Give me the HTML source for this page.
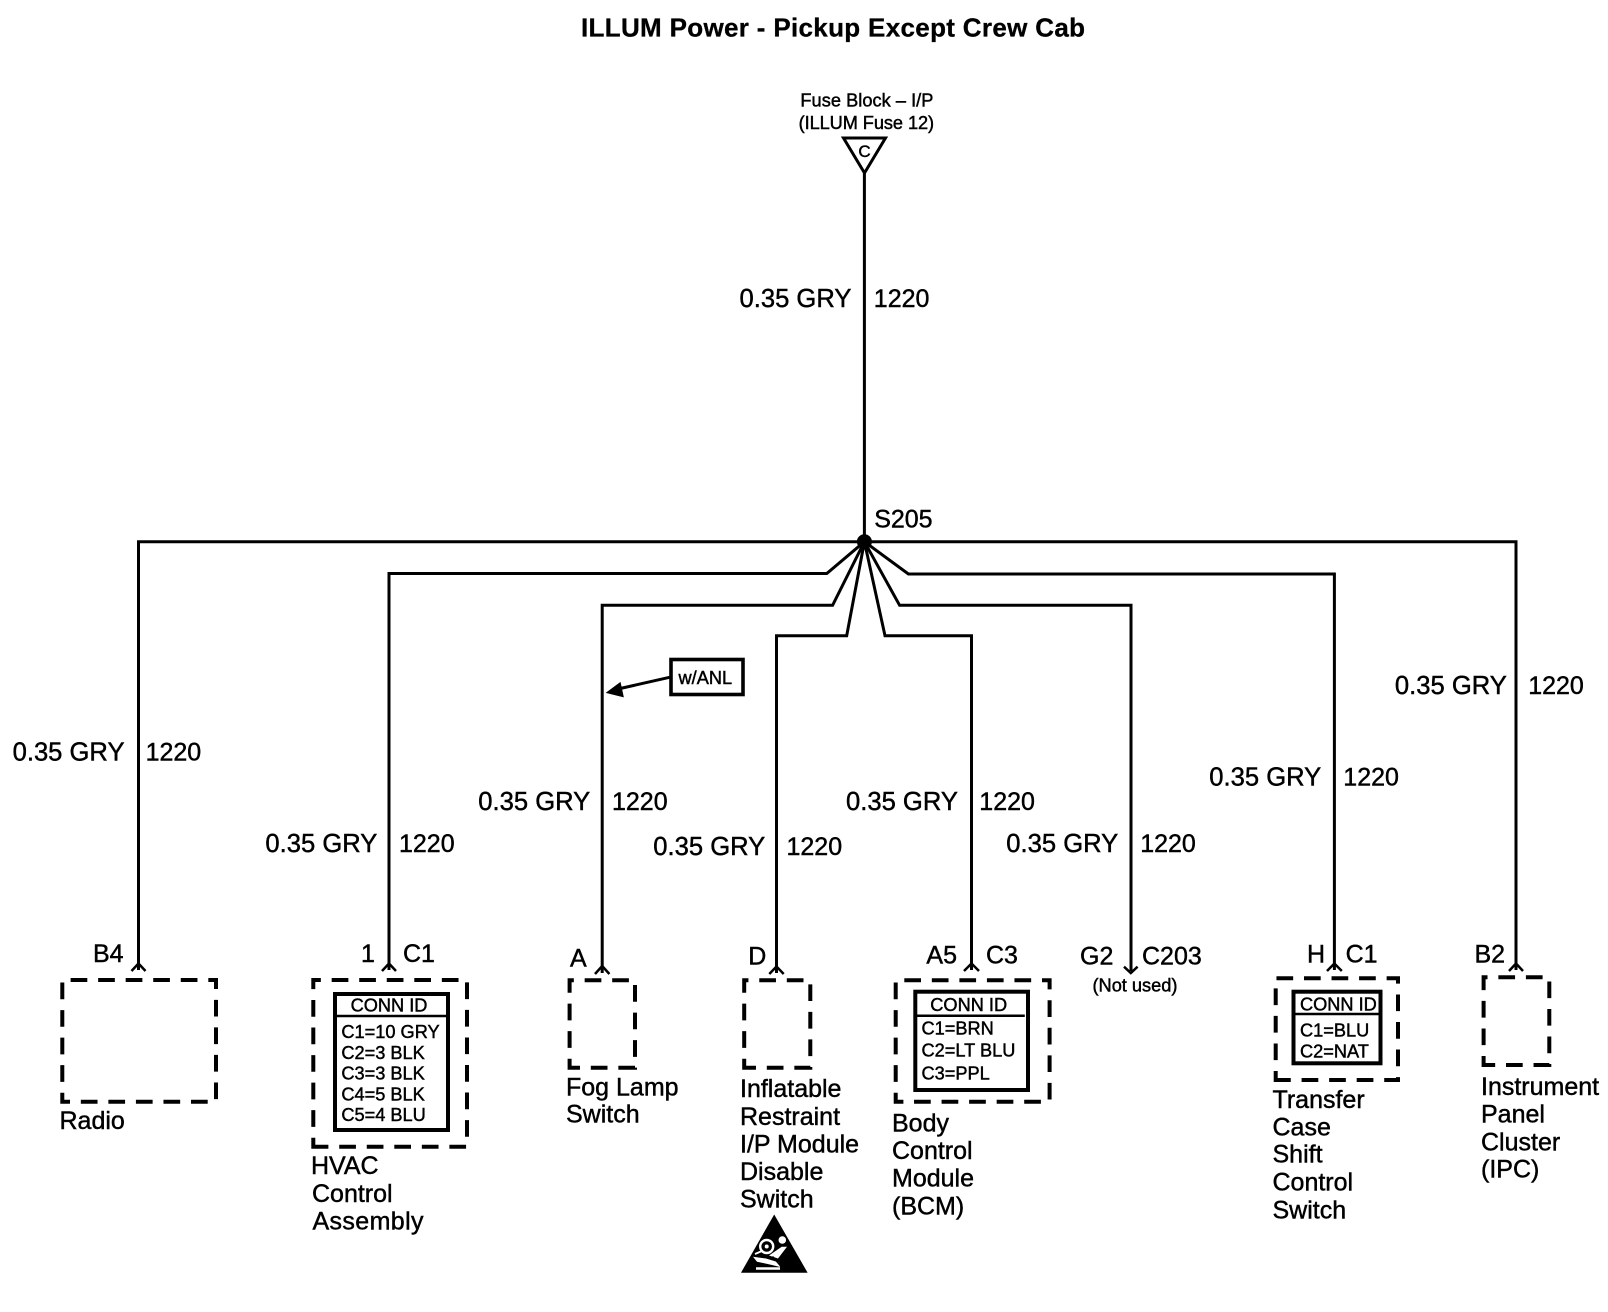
<!DOCTYPE html>
<html>
<head>
<meta charset="utf-8">
<style>
html,body{margin:0;padding:0;background:#fff;}
svg{display:block;}
text{font-family:"Liberation Sans",Arial,sans-serif;fill:#000;stroke:#000;stroke-width:.45;}
.w{font-size:25.6px;}
.l{font-size:25px;}
.s{font-size:18.2px;}
.t{font-size:26px;font-weight:bold;stroke-width:.3;}
.wire{fill:none;stroke:#000;stroke-width:3;}
.dash{fill:none;stroke:#000;stroke-width:4;stroke-dasharray:16.7 10.84;}
.box{fill:none;stroke:#000;stroke-width:4;}
.div{fill:none;stroke:#000;stroke-width:2.5;}
.chev{fill:none;stroke:#000;stroke-width:2.5;}
</style>
</head>
<body>
<svg width="1608" height="1312" viewBox="0 0 1608 1312" xmlns="http://www.w3.org/2000/svg">
<rect width="1608" height="1312" fill="#fff"/>

<text class="t" x="581" y="36.3" textLength="504" lengthAdjust="spacing">ILLUM Power - Pickup Except Crew Cab</text>

<text class="s" x="800.4" y="106.7" textLength="133">Fuse Block – I/P</text>
<text class="s" x="798.6" y="129" textLength="135.5">(ILLUM Fuse 12)</text>
<path d="M843.5 138H885.5L864.5 173Z" fill="none" stroke="#000" stroke-width="3"/>
<text x="864.5" y="157" text-anchor="middle" style="font-size:17px">C</text>

<!-- wires -->
<path class="wire" d="M864.4 173V541.7"/>
<path class="wire" d="M138.5 970V541.7H1516V970"/>
<path class="wire" d="M389 970V573.5H826.8L864.4 541.7L908.4 574H1334.4V970"/>
<path class="wire" d="M602.2 973V605.3H832.6L864.4 541.7L899.6 605.3H1131V971"/>
<path class="wire" d="M776.5 973V635.7H846.7L864.4 541.7L885 635.7H971.5V970"/>
<circle cx="864.4" cy="541.7" r="7.5" fill="#000"/>
<text class="l" x="874.2" y="527.7">S205</text>

<!-- w/ANL -->
<rect x="671" y="659.5" width="72" height="35" fill="#fff" stroke="#000" stroke-width="3.6"/>
<text class="s" x="678.5" y="684">w/ANL</text>
<path d="M669.6 677.3L618 689" fill="none" stroke="#000" stroke-width="3"/>
<path d="M606.8 692.7L620.2 682.7L623.2 696.7Z" fill="#000" stroke="#000" stroke-width="1"/>

<!-- wire labels -->
<text class="w" x="739.5" y="307.2">0.35 GRY</text><text class="l" x="873.8" y="307.2">1220</text>
<text class="w" x="12.6" y="760.6">0.35 GRY</text><text class="l" x="145.6" y="760.6">1220</text>
<text class="w" x="265.4" y="852">0.35 GRY</text><text class="l" x="399" y="852">1220</text>
<text class="w" x="478.3" y="810">0.35 GRY</text><text class="l" x="612" y="810">1220</text>
<text class="w" x="653.3" y="855">0.35 GRY</text><text class="l" x="786.5" y="855">1220</text>
<text class="w" x="846" y="810">0.35 GRY</text><text class="l" x="979.3" y="810">1220</text>
<text class="w" x="1006.3" y="852">0.35 GRY</text><text class="l" x="1140.2" y="852">1220</text>
<text class="w" x="1209.3" y="785.4">0.35 GRY</text><text class="l" x="1343.3" y="785.4">1220</text>
<text class="w" x="1394.9" y="694">0.35 GRY</text><text class="l" x="1528.2" y="694">1220</text>

<!-- connector chevrons -->
<polyline class="chev" points="131.5,971 138.5,963.5 145.5,971"/>
<polyline class="chev" points="382,971 389,963.5 396,971"/>
<polyline class="chev" points="595,974 602.2,966 609.4,974"/>
<polyline class="chev" points="769.3,974 776.5,966.5 783.7,974"/>
<polyline class="chev" points="964,971 971.5,963.5 979,971"/>
<polyline class="chev" points="1124,966.7 1130.8,973 1137.6,966.7"/>
<polyline class="chev" points="1327,971 1334.4,963.5 1341.8,971"/>
<polyline class="chev" points="1509,971 1516,963.5 1523,971"/>

<!-- connector labels -->
<text class="l" x="93" y="962">B4</text>
<text class="l" x="361" y="962">1</text><text class="l" x="403" y="962">C1</text>
<text class="l" x="570" y="966.7">A</text>
<text class="l" x="748.3" y="964.3">D</text>
<text class="l" x="926.4" y="963.3">A5</text><text class="l" x="986" y="963.3">C3</text>
<text class="l" x="1080" y="964.3">G2</text><text class="l" x="1142" y="964.3">C203</text>
<text class="s" x="1092.5" y="991.7">(Not used)</text>
<text class="l" x="1307" y="962.3">H</text><text class="l" x="1345.6" y="962.3">C1</text>
<text class="l" x="1474.5" y="962.3">B2</text>

<!-- dashed boxes -->
<path class="dash" d="M70 1101.7H62.3V980H216V1101.7Z"/>
<path class="dash" d="M321 1146.7H313.3V980H467V1146.7Z"/>
<path class="dash" d="M577.3 1067.7H569.6V980.3H635V1067.7Z"/>
<path class="dash" d="M751.9 1067.7H744.2V980.3H810.3V1067.7Z"/>
<path class="dash" d="M903.4 1101.7H895.7V980.3H1049.6V1101.7Z"/>
<path class="dash" d="M1283.4 1080H1275.7V978.3H1398V1080Z"/>
<path class="dash" d="M1491.3 1065H1483.6V977.3H1549.3V1065Z"/>

<!-- HVAC conn id -->
<rect class="box" x="335" y="994" width="113" height="136"/>
<path class="div" d="M335 1016H448"/>
<text class="s" x="389" y="1011.7" text-anchor="middle">CONN ID</text>
<text class="s" x="341.4" y="1038">C1=10 GRY</text>
<text class="s" x="341.4" y="1058.8">C2=3 BLK</text>
<text class="s" x="341.4" y="1079.6">C3=3 BLK</text>
<text class="s" x="341.4" y="1100.4">C4=5 BLK</text>
<text class="s" x="341.4" y="1121">C5=4 BLU</text>

<!-- BCM conn id -->
<rect class="box" x="915.3" y="991.7" width="112.7" height="98.3"/>
<path class="div" d="M915.3 1015.7H1024.8"/>
<text class="s" x="968.7" y="1011" text-anchor="middle">CONN ID</text>
<text class="s" x="921.5" y="1034.3">C1=BRN</text>
<text class="s" x="921.5" y="1056.7">C2=LT BLU</text>
<text class="s" x="921.5" y="1079.3">C3=PPL</text>

<!-- Transfer conn id -->
<rect class="box" x="1293.5" y="991.7" width="87" height="71.6"/>
<path class="div" d="M1293.5 1014H1380.5"/>
<text class="s" x="1300" y="1010.7">CONN ID</text>
<text class="s" x="1300" y="1036.7">C1=BLU</text>
<text class="s" x="1300" y="1057.7">C2=NAT</text>

<!-- component names -->
<text class="l" x="59.5" y="1129">Radio</text>
<text class="l" x="311" y="1174">HVAC</text>
<text class="l" x="312" y="1202">Control</text>
<text class="l" x="312.5" y="1229.6" textLength="111">Assembly</text>
<text class="l" x="566" y="1095.5">Fog Lamp</text>
<text class="l" x="566" y="1122.7">Switch</text>
<text class="l" x="740" y="1097">Inflatable</text>
<text class="l" x="740" y="1125">Restraint</text>
<text class="l" x="740" y="1152.3">I/P Module</text>
<text class="l" x="740" y="1180">Disable</text>
<text class="l" x="740" y="1207.7">Switch</text>
<text class="l" x="892" y="1131.5">Body</text>
<text class="l" x="892" y="1159">Control</text>
<text class="l" x="892" y="1186.3">Module</text>
<text class="l" x="892" y="1214.3">(BCM)</text>
<text class="l" x="1272.5" y="1108">Transfer</text>
<text class="l" x="1272.5" y="1135.5">Case</text>
<text class="l" x="1272.5" y="1162.7">Shift</text>
<text class="l" x="1272.5" y="1190.7">Control</text>
<text class="l" x="1272.5" y="1218.3">Switch</text>
<text class="l" x="1481" y="1095">Instrument</text>
<text class="l" x="1481" y="1122.7">Panel</text>
<text class="l" x="1481" y="1150.3">Cluster</text>
<text class="l" x="1481" y="1177.3">(IPC)</text>

<!-- airbag warning triangle -->
<path d="M774.2 1214.5L741 1272.7H807.6Z" fill="#000"/>
<circle cx="766.7" cy="1246.5" r="6.5" fill="none" stroke="#fff" stroke-width="2.4"/>
<circle cx="766.7" cy="1246.5" r="2" fill="#fff"/>
<circle cx="782.3" cy="1240" r="3.8" fill="#fff"/>
<path d="M781.7 1246.7L787 1246.7L778 1258.5L769 1255.5Z" fill="#fff"/>
<path d="M753 1256.7L757 1261.7L772 1265L780 1267L779 1262.5L766 1258.5Z" fill="#fff"/>
<path d="M756 1268.5H780" stroke="#fff" stroke-width="2.4" fill="none"/>
<path d="M772.5 1256.5L782.5 1268" stroke="#000" stroke-width="1.6" fill="none"/>
<path d="M755 1254L762 1251" stroke="#fff" stroke-width="1.8" fill="none"/>
</svg>
</body>
</html>
